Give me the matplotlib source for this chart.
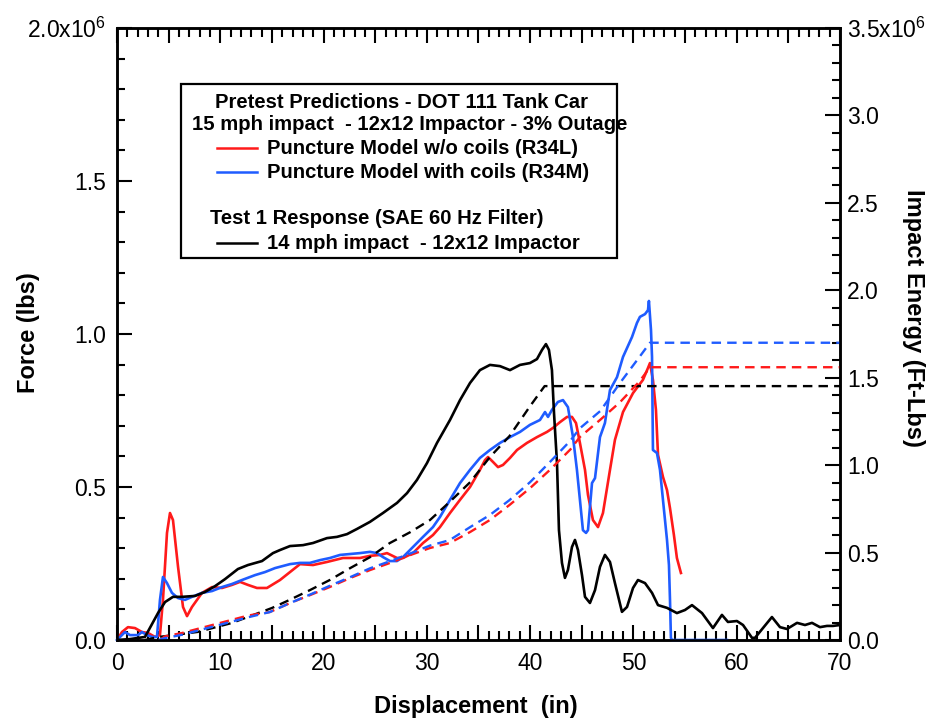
import numpy as np
import matplotlib
matplotlib.use("Agg")
import matplotlib.pyplot as plt
from matplotlib.ticker import MultipleLocator, FuncFormatter
from matplotlib.lines import Line2D
from matplotlib.patches import Rectangle

plt.rcParams["font.family"] = ["Liberation Sans", "DejaVu Sans"]
plt.rcParams["mathtext.fontset"] = "custom"
plt.rcParams["mathtext.rm"] = "Liberation Sans"
plt.rcParams["mathtext.default"] = "regular"

# ---- Test 1 response (force in 10^6 lbs, displacement in inches) ----
test_x = [0.0, 1.26, 2.71, 3.97, 4.65, 5.42, 6.29, 7.55, 8.52, 9.49, 10.46, 11.71,
          12.68, 14.04, 15.10, 15.78, 16.75, 18.01, 18.98, 20.33, 21.30, 22.27, 23.24,
          24.49, 25.75, 27.11, 28.08, 29.04, 30.01, 30.98, 32.24, 33.21, 34.18, 35.14,
          36.11, 37.08, 38.05, 39.02, 39.98, 40.66, 41.15, 41.53, 41.82, 42.11, 42.31,
          42.60, 42.79, 43.08, 43.37, 43.66, 44.05, 44.34, 44.63, 45.02, 45.31, 45.79,
          46.28, 46.76, 47.24, 47.73, 48.21, 48.89, 49.38, 49.96, 50.44, 51.12, 51.80,
          52.38, 53.25, 54.21, 54.99, 55.67, 56.64, 57.70, 58.57, 59.15, 60.02, 60.61,
          61.48, 61.77, 62.54, 63.41, 64.19, 64.87, 65.84, 66.61, 67.29, 68.06, 68.74,
          69.32, 70.0]
test_f = [0.0, 0.003, 0.010, 0.088, 0.124, 0.141, 0.141, 0.144, 0.157, 0.176, 0.199, 0.232,
          0.245, 0.258, 0.284, 0.294, 0.307, 0.310, 0.317, 0.333, 0.337, 0.346, 0.363,
          0.386, 0.415, 0.448, 0.480, 0.523, 0.578, 0.644, 0.719, 0.784, 0.840, 0.882,
          0.899, 0.895, 0.882, 0.899, 0.905, 0.918, 0.948, 0.967, 0.948, 0.882, 0.742,
          0.578, 0.359, 0.252, 0.203, 0.229, 0.304, 0.327, 0.294, 0.212, 0.141, 0.121,
          0.163, 0.239, 0.278, 0.255, 0.186, 0.092, 0.108, 0.170, 0.196, 0.186, 0.154,
          0.114, 0.105, 0.088, 0.098, 0.114, 0.088, 0.039, 0.082, 0.059, 0.062, 0.049,
          0.007, 0.007, 0.039, 0.075, 0.042, 0.036, 0.056, 0.049, 0.056, 0.042, 0.046,
          0.046, 0.049]

# ---- Puncture model without coils (R34L) ----
r34l_x = [0.0, 0.48, 1.06, 1.74, 2.42, 3.00, 3.68, 4.16, 4.45, 4.84, 5.13, 5.42, 5.91,
          6.39, 6.78, 7.26, 8.23, 9.20, 10.17, 11.13, 11.91, 12.68, 13.55, 14.52, 15.78,
          16.75, 17.72, 18.98, 20.33, 21.88, 23.53, 24.49, 25.46, 26.14, 27.11, 27.69,
          28.66, 29.63, 30.59, 31.27, 32.24, 33.21, 34.18, 35.14, 35.63, 35.92, 36.40,
          36.89, 37.37, 38.05, 38.73, 39.69, 40.66, 41.63, 42.21, 42.89, 43.57, 44.05,
          44.44, 44.82, 45.31, 45.60, 46.08, 46.57, 47.05, 47.73, 48.21, 48.99, 49.96,
          50.92, 51.41, 51.60, 51.89, 52.18, 52.38, 52.86, 53.25, 53.54, 53.92, 54.21,
          54.60]
r34l_f = [0.0, 0.026, 0.042, 0.039, 0.026, 0.023, 0.010, 0.016, 0.131, 0.350, 0.415, 0.392,
          0.239, 0.108, 0.078, 0.108, 0.154, 0.173, 0.170, 0.180, 0.190, 0.180, 0.170,
          0.170, 0.196, 0.222, 0.248, 0.245, 0.255, 0.268, 0.268, 0.275, 0.278, 0.284,
          0.268, 0.268, 0.284, 0.317, 0.343, 0.369, 0.415, 0.458, 0.500, 0.556, 0.588,
          0.598, 0.582, 0.565, 0.572, 0.595, 0.621, 0.644, 0.663, 0.680, 0.693, 0.712,
          0.729, 0.729, 0.709, 0.644, 0.556, 0.474, 0.392, 0.369, 0.415, 0.556, 0.654,
          0.745, 0.807, 0.850, 0.889, 0.905, 0.850, 0.752, 0.605, 0.533, 0.490, 0.431,
          0.343, 0.268, 0.219]

# ---- Puncture model with coils (R34M) ----
r34m_x = [0.0, 0.77, 1.26, 2.03, 2.42, 2.90, 3.39, 3.87, 4.16, 4.45, 4.84, 5.32, 5.91,
          6.58, 7.26, 8.23, 9.20, 10.17, 11.13, 12.10, 13.36, 14.33, 15.30, 16.75, 17.72,
          18.68, 19.65, 20.62, 21.59, 22.56, 23.53, 24.49, 25.17, 25.75, 26.43, 27.11,
          27.69, 28.66, 29.63, 30.59, 31.27, 32.24, 33.21, 34.18, 35.14, 36.11, 37.08,
          38.05, 39.02, 39.98, 40.95, 41.44, 41.73, 42.11, 42.69, 43.18, 43.66, 44.15,
          44.53, 44.82, 45.11, 45.41, 45.60, 45.99, 46.28, 46.76, 47.24, 47.73, 48.41,
          48.99, 49.86, 50.34, 50.63, 51.12, 51.41, 51.50, 51.70, 51.80, 51.89, 52.28,
          52.57, 52.86, 53.25, 53.44, 53.54, 53.63, 53.73, 59.06]
r34m_f = [0.0, 0.026, 0.016, 0.016, 0.026, 0.016, 0.010, 0.010, 0.131, 0.206, 0.186, 0.154,
          0.137, 0.131, 0.141, 0.154, 0.160, 0.173, 0.183, 0.196, 0.212, 0.222, 0.235,
          0.248, 0.252, 0.252, 0.261, 0.268, 0.278, 0.281, 0.284, 0.288, 0.284, 0.271,
          0.258, 0.258, 0.271, 0.304, 0.337, 0.369, 0.402, 0.458, 0.513, 0.556, 0.595,
          0.621, 0.644, 0.663, 0.680, 0.703, 0.719, 0.745, 0.729, 0.752, 0.778, 0.784,
          0.761, 0.663, 0.556, 0.458, 0.359, 0.350, 0.359, 0.513, 0.529, 0.663, 0.709,
          0.817, 0.859, 0.925, 0.990, 1.036, 1.056, 1.065, 1.078, 1.108, 1.013, 0.925,
          0.621, 0.611, 0.556, 0.458, 0.327, 0.245, 0.131, 0.007, 0.0, 0.0]

# ---- Impact energy (10^6 ft-lbs) ----
test_e_x = [2.7, 4.0, 7.8, 11.1, 15.0, 16.7, 18.7, 20.6, 22.6, 24.5, 26.4, 28.4, 30.3,
            32.2, 34.2, 36.1, 38.0, 40.0, 41.4, 70.0]
test_e = [0.0, 0.017, 0.046, 0.097, 0.183, 0.229, 0.286, 0.343, 0.412, 0.474, 0.554,
          0.617, 0.686, 0.789, 0.903, 1.046, 1.166, 1.338, 1.452, 1.452]

r34l_e_x = [4.2, 4.6, 6.3, 9.5, 12.7, 14.8, 16.7, 18.7, 20.6, 22.6, 24.5, 26.4, 28.4,
            30.3, 32.2, 34.2, 36.1, 38.0, 40.0, 41.9, 43.9, 44.8, 46.8, 48.7, 50.6,
            51.6, 70.0]
r34l_e = [0.0, 0.02, 0.04, 0.09, 0.14, 0.16, 0.21, 0.257, 0.303, 0.355, 0.40, 0.44,
          0.486, 0.526, 0.554, 0.618, 0.686, 0.772, 0.869, 0.972, 1.09, 1.16, 1.26,
          1.36, 1.48, 1.56, 1.56]

r34m_e_x = [4.0, 4.6, 6.3, 9.5, 12.7, 14.8, 16.7, 18.7, 20.6, 22.6, 24.5, 26.4, 28.4,
            30.3, 32.2, 34.2, 36.1, 38.0, 40.0, 41.9, 43.9, 44.8, 46.8, 48.7, 50.6,
            51.6, 70.0]
r34m_e = [0.0, 0.01, 0.03, 0.08, 0.13, 0.16, 0.21, 0.26, 0.31, 0.36, 0.41, 0.45, 0.495,
          0.54, 0.571, 0.646, 0.715, 0.80, 0.903, 1.017, 1.14, 1.21, 1.31, 1.47, 1.62,
          1.70, 1.70]

RED = "#ff1a1a"
BLUE = "#1f5cff"
W, H = 927, 721

fig = plt.figure(figsize=(W / 100, H / 100), dpi=100)
ax = fig.add_axes([117 / W, 1 - 640 / H, (840 - 117) / W, (640 - 28) / H])
ax2 = ax.twinx()

solid_lw = 1.9
dash = (0, (4, 2.6))
ax.plot(r34l_x, r34l_f, color=RED, lw=solid_lw, zorder=3)
ax.plot(r34m_x, r34m_f, color=BLUE, lw=solid_lw, zorder=3, clip_on=False)
ax.plot(test_x, test_f, color="black", lw=solid_lw, zorder=4)

ax2.plot(test_e_x, test_e, color="black", lw=1.7, ls=dash)
ax2.plot(r34l_e_x, r34l_e, color=RED, lw=1.7, ls=dash)
ax2.plot(r34m_e_x, r34m_e, color=BLUE, lw=1.7, ls=dash)

ax.set_xlim(0, 70)
ax.set_ylim(0, 2.0)
ax2.set_ylim(0, 3.5)

TICK_FS = 16.5
ax.xaxis.set_major_locator(MultipleLocator(5))
ax.xaxis.set_minor_locator(MultipleLocator(1))
ax.xaxis.set_major_formatter(FuncFormatter(lambda v, p: f"{v:.0f}" if round(v) % 10 == 0 else ""))
ax.yaxis.set_major_locator(MultipleLocator(0.5))
ax.yaxis.set_minor_locator(MultipleLocator(0.1))
ax.yaxis.set_major_formatter(FuncFormatter(
    lambda v, p: r"2.0x10$^{6}$" if abs(v - 2.0) < 1e-9 else f"{v:.1f}"))
ax2.yaxis.set_major_locator(MultipleLocator(0.5))
ax2.yaxis.set_minor_locator(MultipleLocator(0.1))
ax2.yaxis.set_major_formatter(FuncFormatter(
    lambda v, p: r"3.5x10$^{6}$" if abs(v - 3.5) < 1e-9 else f"{v:.1f}"))

for a in (ax, ax2):
    for s in a.spines.values():
        s.set_linewidth(1.8)
ax.tick_params(axis="x", which="both", direction="in", top=True, bottom=True,
               width=1.5, labelsize=TICK_FS, pad=9)
ax.tick_params(axis="x", which="major", length=11)
ax.tick_params(axis="x", which="minor", length=6.5)
ax.tick_params(axis="y", which="both", direction="in", left=True, right=False,
               width=1.5, labelsize=TICK_FS, pad=8)
ax.tick_params(axis="y", which="major", length=11)
ax.tick_params(axis="y", which="minor", length=6)
ax2.tick_params(axis="y", which="both", direction="in", right=True, left=False,
                width=1.5, labelsize=TICK_FS, pad=5)
ax2.tick_params(axis="y", which="major", length=11)
ax2.tick_params(axis="y", which="minor", length=6)

# axis titles
fig.text(28 / W, 1 - 333 / H, "Force (lbs)", rotation=90, ha="center", va="center",
         fontsize=17, fontweight="bold")
fig.text(913 / W, 1 - 318 / H, "Impact Energy (Ft-Lbs)", rotation=270, ha="center",
         va="center", fontsize=17, fontweight="bold")
fig.text(476 / W, 1 - 706 / H, "Displacement  (in)", ha="center", va="center",
         fontsize=17, fontweight="bold")

# legend box
def fx(px):
    return px / W

def fy(py):
    return 1 - py / H

fig.add_artist(Rectangle((fx(181), fy(258)), fx(617) - fx(181), fy(84) - fy(258),
                         transform=fig.transFigure, fill=True, facecolor="white",
                         edgecolor="black", lw=1.6, zorder=5))
leg_fs = 14.6
fig.text(fx(215), fy(102), "Pretest Predictions - DOT 111 Tank Car", ha="left",
         va="center", fontsize=leg_fs, fontweight="bold", zorder=6)
fig.text(fx(192), fy(125), "15 mph impact  - 12x12 Impactor - 3% Outage", ha="left",
         va="center", fontsize=leg_fs, fontweight="bold", zorder=6)
fig.text(fx(210), fy(219), "Test 1 Response (SAE 60 Hz Filter)", ha="left",
         va="center", fontsize=leg_fs, fontweight="bold", zorder=6)
legend_rows = [
    (148, RED, "Puncture Model w/o coils (R34L)"),
    (172, BLUE, "Puncture Model with coils (R34M)"),
    (243, "black", "14 mph impact  - 12x12 Impactor"),
]
for py, col, label in legend_rows:
    fig.add_artist(Line2D([fx(217), fx(257)], [fy(py), fy(py)], color=col, lw=1.8,
                          transform=fig.transFigure, zorder=6))
    fig.text(fx(267), fy(py), label, ha="left", va="center", fontsize=leg_fs,
             fontweight="bold", zorder=6)

fig.savefig("out.png", dpi=100)
